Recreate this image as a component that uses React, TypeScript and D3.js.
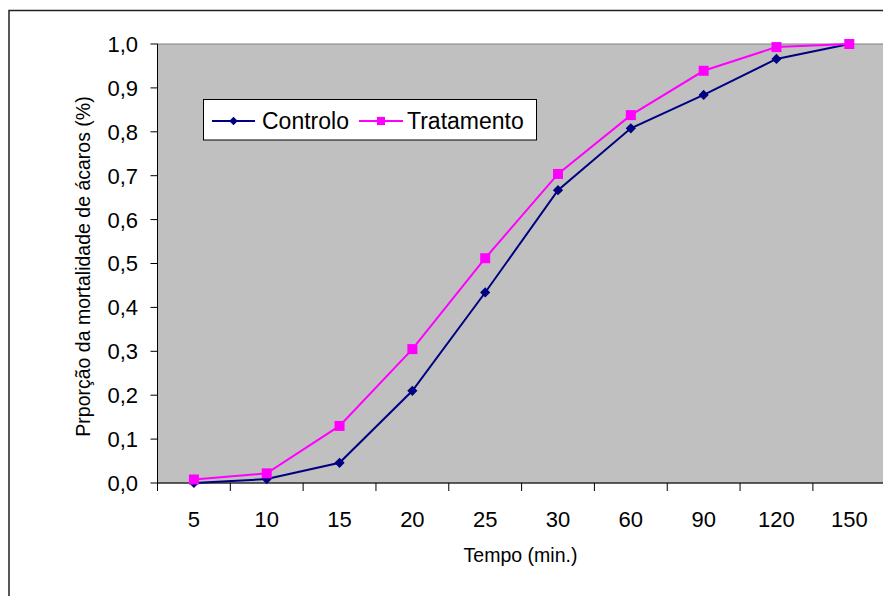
import React from 'react';
import { scaleBand, scaleLinear, line, symbol, symbolSquare } from 'd3';

const categories = ['5', '10', '15', '20', '25', '30', '60', '90', '120', '150'];
const controlo = [0.0, 0.009, 0.046, 0.21, 0.434, 0.667, 0.808, 0.884, 0.966, 1.0];
const tratamento = [0.008, 0.022, 0.13, 0.305, 0.512, 0.704, 0.838, 0.939, 0.993, 1.0];
const yTicks = [0, 0.1, 0.2, 0.3, 0.4, 0.5, 0.6, 0.7, 0.8, 0.9, 1.0];

const W = 883;
const H = 596;
const plot = { left: 157.5, top: 44, right: 885.7, bottom: 483 };
const font = '"Liberation Sans", Arial, sans-serif';

const NAVY = '#000080';
const MAGENTA = '#FF00FF';

function fmt(v: number) {
    return v.toFixed(1).replace('.', ',');
}

export default function App() {
    const x = scaleBand<string>().domain(categories).range([plot.left, plot.right]).padding(0);
    const y = scaleLinear().domain([0, 1]).range([plot.bottom, plot.top]);
    const cx = (c: string) => (x(c) ?? 0) + x.bandwidth() / 2;

    const path = line<number>()
        .x((_, i) => cx(categories[i]))
        .y((d) => y(d));

    // excel-style diamond = square turned 45deg
    const diamond = symbol().type(symbolSquare).size(52)();
    const square = symbol().type(symbolSquare).size(100)();
    const diamondSmall = symbol().type(symbolSquare).size(36)();
    const squareSmall = symbol().type(symbolSquare).size(66)();

    const bounds = categories.map((c) => x(c) ?? 0).concat([plot.right]);

    return (
        <div style={{ position: 'absolute', left: 0, top: 0 }}>
            <svg width={W} height={H} style={{ display: 'block' }} fontFamily={font}>
                <rect x={0} y={0} width={W} height={H} fill="#fff" />
                <rect x={9} y={10.5} width={W + 20} height={H + 20} fill="none" stroke="#222" strokeWidth={1.5} />

                {/* plot area */}
                <rect
                    x={plot.left}
                    y={plot.top}
                    width={plot.right - plot.left}
                    height={plot.bottom - plot.top}
                    fill="#C0C0C0"
                    stroke="#808080"
                    strokeWidth={1}
                />

                {/* y axis */}
                <line x1={plot.left} x2={plot.left} y1={plot.top} y2={plot.bottom} stroke="#000" />
                {yTicks.map((t) => (
                    <g key={`y-${t}`}>
                        <line x1={plot.left - 7} x2={plot.left} y1={y(t)} y2={y(t)} stroke="#000" />
                        <text x={138} y={y(t)} dy="0.36em" textAnchor="end" fontSize={22}>
                            {fmt(t)}
                        </text>
                    </g>
                ))}

                {/* x axis */}
                <line x1={plot.left} x2={plot.right} y1={plot.bottom} y2={plot.bottom} stroke="#000" />
                {bounds.map((b, i) => (
                    <line key={`xt-${i}`} x1={b} x2={b} y1={plot.bottom} y2={plot.bottom + 8} stroke="#000" />
                ))}
                {categories.map((c) => (
                    <text key={`xl-${c}`} x={cx(c)} y={527} textAnchor="middle" fontSize={22}>
                        {c}
                    </text>
                ))}

                <text x={520.5} y={562} textAnchor="middle" fontSize={19.5}>
                    Tempo (min.)
                </text>
                <text
                    transform={`translate(90, ${(plot.top + plot.bottom) / 2 + 3}) rotate(-90)`}
                    textAnchor="middle"
                    fontSize={19.5}
                >
                    Prporção da mortalidade de ácaros (%)
                </text>

                {/* series */}
                <path d={path(controlo) ?? ''} fill="none" stroke={NAVY} strokeWidth={2} />
                {controlo.map((v, i) => (
                    <path
                        key={`c-${i}`}
                        d={diamond ?? ''}
                        transform={`translate(${cx(categories[i])}, ${y(v)}) rotate(45)`}
                        fill={NAVY}
                    />
                ))}
                <path d={path(tratamento) ?? ''} fill="none" stroke={MAGENTA} strokeWidth={2} />
                {tratamento.map((v, i) => (
                    <path key={`t-${i}`} d={square ?? ''} transform={`translate(${cx(categories[i])}, ${y(v)})`} fill={MAGENTA} />
                ))}

                {/* legend */}
                <g>
                    <rect x={203.5} y={99.5} width={333} height={40.5} fill="#fff" stroke="#000" strokeWidth={1} />
                    <line x1={212} x2={255} y1={121} y2={121} stroke={NAVY} strokeWidth={2} />
                    <path d={diamondSmall ?? ''} transform="translate(233.5, 121) rotate(45)" fill={NAVY} />
                    <text x={262} y={121} dy="0.36em" fontSize={23}>
                        Controlo
                    </text>
                    <line x1={359} x2={403} y1={121} y2={121} stroke={MAGENTA} strokeWidth={2} />
                    <path d={squareSmall ?? ''} transform="translate(381, 121)" fill={MAGENTA} />
                    <text x={407} y={121} dy="0.36em" fontSize={23}>
                        Tratamento
                    </text>
                </g>
            </svg>
        </div>
    );
}
